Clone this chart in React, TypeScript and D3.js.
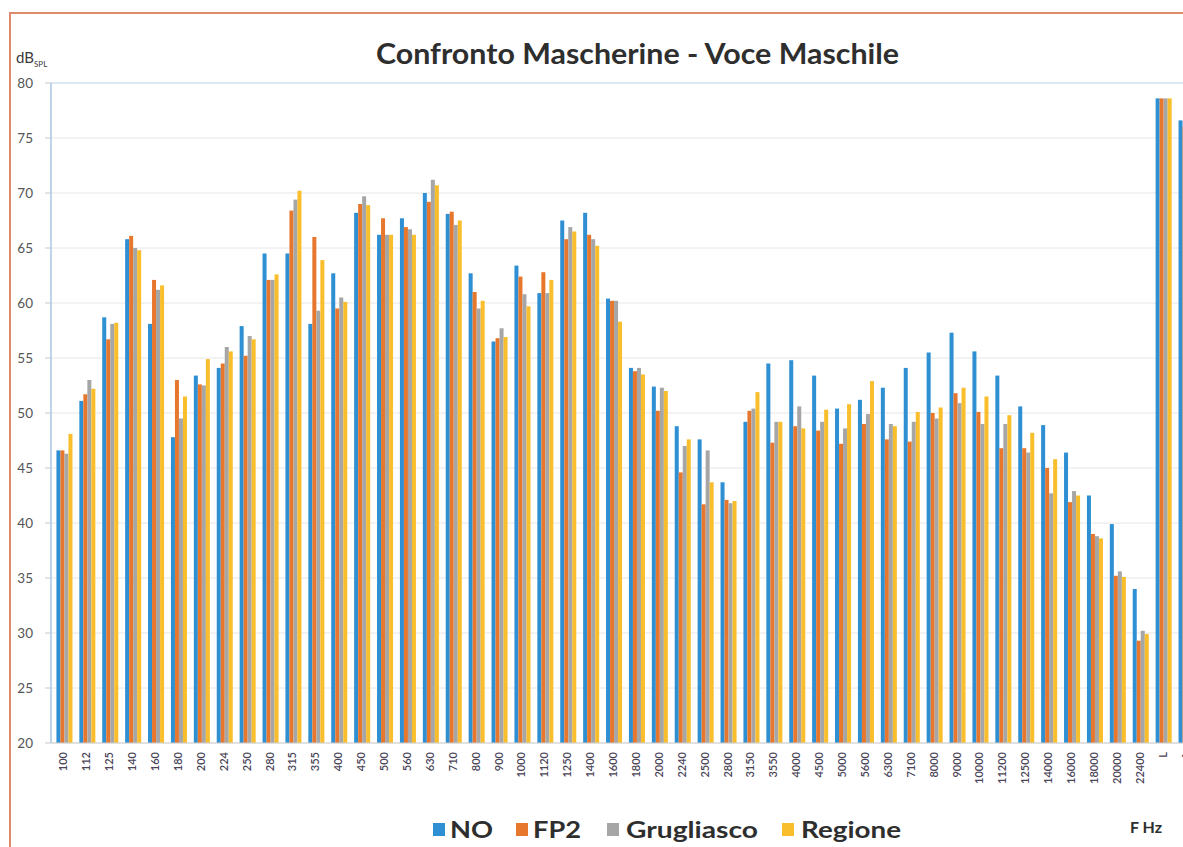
import { useEffect } from "react";
import * as d3 from "d3";

const categories = [
  "100", "112", "125", "140", "160", "180", "200", "224", "250", "280",
  "315", "355", "400", "450", "500", "560", "630", "710", "800", "900",
  "1000", "1120", "1250", "1400", "1600", "1800", "2000", "2240", "2500", "2800",
  "3150", "3550", "4000", "4500", "5000", "5600", "6300", "7100", "8000", "9000",
  "10000", "11200", "12500", "14000", "16000", "18000", "20000", "22400", "L", "A",
];

const seriesNames = ["NO", "FP2", "Grugliasco", "Regione"];

const noValues = [
  46.6, 51.1, 58.7, 65.8, 58.1, 47.8, 53.4, 54.1, 57.9, 64.5,
  64.5, 58.1, 62.7, 68.2, 66.2, 67.7, 70.0, 68.1, 62.7, 56.5,
  63.4, 60.9, 67.5, 68.2, 60.4, 54.1, 52.4, 48.8, 47.6, 43.7,
  49.2, 54.5, 54.8, 53.4, 50.4, 51.2, 52.3, 54.1, 55.5, 57.3,
  55.6, 53.4, 50.6, 48.9, 46.4, 42.5, 39.9, 34.0, 78.6, 76.6,
];
const fp2Values = [
  46.6, 51.7, 56.7, 66.1, 62.1, 53.0, 52.6, 54.5, 55.2, 62.1,
  68.4, 66.0, 59.5, 69.0, 67.7, 66.9, 69.2, 68.3, 61.0, 56.8,
  62.4, 62.8, 65.8, 66.2, 60.2, 53.8, 50.2, 44.6, 41.7, 42.1,
  50.2, 47.3, 48.8, 48.4, 47.2, 49.0, 47.6, 47.4, 50.0, 51.8,
  50.1, 46.8, 46.8, 45.0, 41.9, 39.0, 35.2, 29.3, 78.6, 76.0,
];
const grugliascoValues = [
  46.3, 53.0, 58.1, 65.0, 61.2, 49.5, 52.5, 56.0, 57.0, 62.1,
  69.4, 59.3, 60.5, 69.7, 66.2, 66.7, 71.2, 67.1, 59.5, 57.7,
  60.8, 60.9, 66.9, 65.8, 60.2, 54.1, 52.3, 47.0, 46.6, 41.8,
  50.4, 49.2, 50.6, 49.2, 48.6, 49.9, 49.0, 49.2, 49.5, 50.9,
  49.0, 49.0, 46.4, 42.7, 42.9, 38.8, 35.6, 30.2, 78.6, 76.2,
];
const regioneValues = [
  48.1, 52.2, 58.2, 64.8, 61.6, 51.5, 54.9, 55.6, 56.7, 62.6,
  70.2, 63.9, 60.1, 68.9, 66.2, 66.2, 70.7, 67.5, 60.2, 56.9,
  59.7, 62.1, 66.5, 65.2, 58.3, 53.5, 52.0, 47.6, 43.7, 42.0,
  51.9, 49.2, 48.6, 50.3, 50.8, 52.9, 48.8, 50.1, 50.5, 52.3,
  51.5, 49.8, 48.2, 45.8, 42.5, 38.6, 35.1, 29.9, 78.6, 76.0,
];

const yTicks = [20, 25, 30, 35, 40, 45, 50, 55, 60, 65, 70, 75, 80];

const colors = ["#2f8fd3", "#e8772e", "#a6a6a6", "#f9be2c"];

export default function App() {
  useEffect(() => {
    document.body.style.margin = "0";
  }, []);

  const width = 1183;
  const height = 847;
  const left = 51;
  const top = 83;
  const bottom = 743;
  const step = 22.9;

  const allValues = [noValues, fp2Values, grugliascoValues, regioneValues];

  const x0 = d3
    .scaleBand<string>()
    .domain(categories)
    .range([left + 2, left + 2 + step * categories.length])
    .paddingInner(0.3)
    .paddingOuter(0.15);

  const x1 = d3
    .scaleBand<string>()
    .domain(seriesNames)
    .range([0, x0.bandwidth()]);

  const y = d3.scaleLinear().domain([20, 80]).range([bottom, top]);

  const font = "Lato, 'Open Sans', sans-serif";

  // legend entries: square x, text x, text width
  const legend = [
    { name: "NO", sq: 433, tx: 450, w: 43 },
    { name: "FP2", sq: 516, tx: 533, w: 48 },
    { name: "Grugliasco", sq: 607, tx: 626, w: 132 },
    { name: "Regione", sq: 782, tx: 801, w: 100 },
  ];

  return (
    <svg width={width} height={height} style={{ display: "block", background: "#fff" }}>
      {/* chart border */}
      <path d={`M10,${height} L10,13 L${width},13`} fill="none" stroke="#e08a6c" strokeWidth={2} />

      {/* title */}
      <text
        x={376}
        y={64}
        textLength={523}
        lengthAdjust="spacingAndGlyphs"
        fontFamily={font}
        fontWeight={700}
        fontSize={29}
        fill="#2e2e2e"
      >
        Confronto Mascherine - Voce Maschile
      </text>

      {/* y unit */}
      <text x={16} y={63} fontFamily={font} fontSize={15} fill="#3a3a3a">
        dB
        <tspan fontSize={8} dy={4}>SPL</tspan>
      </text>

      {/* gridlines */}
      {yTicks.map((t) => (
        <line key={t} x1={left} x2={width} y1={y(t)} y2={y(t)} stroke={t === 80 ? "#b9d0ea" : "#e6e6e6"} strokeWidth={1} />
      ))}

      {/* y ticks and labels */}
      {yTicks.map((t) => (
        <g key={`yt${t}`}>
          <line x1={left - 6} x2={left} y1={y(t)} y2={y(t)} stroke="#c9c9c9" />
          <text x={33} y={y(t) + 5} textAnchor="end" fontFamily={font} fontSize={13.5} fill="#555">
            {t}
          </text>
        </g>
      ))}

      {/* bars */}
      {categories.map((c, i) => (
        <g key={c} transform={`translate(${x0(c)},0)`}>
          {seriesNames.map((s, j) => (
            <rect
              key={s}
              x={x1(s)}
              y={y(allValues[j][i])}
              width={x1.bandwidth()}
              height={bottom - y(allValues[j][i])}
              fill={colors[j]}
            />
          ))}
        </g>
      ))}

      {/* axes lines */}
      <line x1={left} x2={left} y1={top} y2={bottom} stroke="#a9c6e6" strokeWidth={1.5} />
      <line x1={left} x2={width} y1={bottom} y2={bottom} stroke="#cfcfcf" />

      {/* x labels */}
      {categories.map((c) => {
        const cx = (x0(c) as number) + x0.bandwidth() / 2;
        return (
          <text
            key={`xl${c}`}
            transform={`translate(${cx + 3},${bottom + 9}) rotate(-90)`}
            textAnchor="end"
            fontFamily={font}
            fontWeight={600}
            fontSize={11}
            fill="#4a4458"
          >
            {c}
          </text>
        );
      })}

      {/* legend */}
      {legend.map((l, i) => (
        <g key={l.name}>
          <rect x={l.sq} y={823} width={12} height={13} fill={colors[i]} />
          <text
            x={l.tx}
            y={838}
            textLength={l.w}
            lengthAdjust="spacingAndGlyphs"
            fontFamily={font}
            fontWeight={700}
            fontSize={23}
            fill="#2e2e2e"
          >
            {l.name}
          </text>
        </g>
      ))}
      <text x={1130} y={833} fontFamily={font} fontWeight={700} fontSize={16} fill="#2e2e2e">
        F Hz
      </text>
    </svg>
  );
}
